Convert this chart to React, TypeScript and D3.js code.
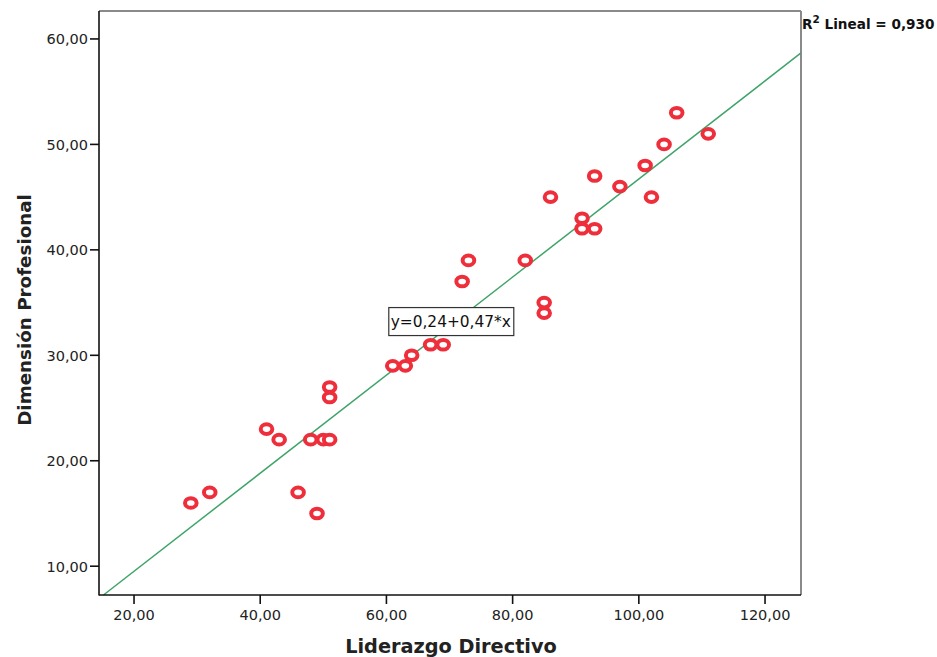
import React from 'react';
import * as d3 from 'd3';

// Liderazgo Directivo (x) vs Dimensión Profesional (y)
const liderazgo = [29, 32, 41, 43, 46, 48, 49, 50, 51, 51, 51, 61, 63, 64, 67, 69, 72, 73, 82, 85, 85, 86, 91, 91, 93, 93, 97, 101, 102, 104, 106, 111];
const dimension = [16, 17, 23, 22, 17, 22, 15, 22, 22, 27, 26, 29, 29, 30, 31, 31, 37, 39, 39, 35, 34, 45, 43, 42, 42, 47, 46, 48, 45, 50, 53, 51];

const xTicks = [20, 40, 60, 80, 100, 120];
const yTicks = [10, 20, 30, 40, 50, 60];

// fit line as drawn (label shows rounded coefficients)
const fit = { intercept: 0.22, slope: 0.465 };
const eqLabel = 'y=0,24+0,47*x';
const eqAt = [70.2, 33.2];
const r2Label = '0,930';

const fmt = (v: number) => v.toFixed(2).replace('.', ',');

export default function App() {
  const W = 937, H = 657;
  const m = { l: 99, r: 136, t: 11, b: 62 };

  const x = d3.scaleLinear().domain([14.45, 125.7]).range([m.l, W - m.r]);
  const y = d3.scaleLinear().domain([7.27, 62.65]).range([H - m.b, m.t]);

  const [x0, x1] = x.domain();
  const [y0] = y.domain();
  // start line where it enters the bottom of the frame
  const xs = Math.max(x0, (y0 - fit.intercept) / fit.slope);
  const line = d3.line<number>().x(d => x(d)).y(d => y(fit.intercept + fit.slope * d));

  const pts = liderazgo.map((v, i) => ({ x: v, y: dimension[i] }));
  const font = 'DejaVu Sans, Arial, sans-serif';

  return (
    <svg width={W} height={H} style={{ position: 'absolute', left: 0, top: 0, background: '#fff' }}>
      <rect x={0} y={0} width={W} height={H} fill="#fff" />

      {/* frame: top & right grey, left & bottom black */}
      <line x1={m.l} y1={m.t} x2={W - m.r} y2={m.t} stroke="#8a8a8a" strokeWidth={2} />
      <line x1={W - m.r} y1={m.t} x2={W - m.r} y2={H - m.b} stroke="#8a8a8a" strokeWidth={2} />

      <path d={line([xs, x1]) || ''} fill="none" stroke="#3fa46a" strokeWidth={1.5} />

      {pts.map((p, i) => (
        <ellipse key={i} cx={x(p.x)} cy={y(p.y)} rx={5.8} ry={4.8} fill="#fff" stroke="#ee2f3b" strokeWidth={4} />
      ))}

      <line x1={m.l} y1={m.t} x2={m.l} y2={H - m.b + 0.5} stroke="#111" strokeWidth={1.6} />
      <line x1={m.l} y1={H - m.b} x2={W - m.r} y2={H - m.b} stroke="#111" strokeWidth={1.6} />

      {yTicks.map(t => (
        <g key={t}>
          <line x1={m.l - 9} x2={m.l} y1={y(t)} y2={y(t)} stroke="#111" strokeWidth={1.6} />
          <text x={m.l - 11} y={y(t) + 5.5} textAnchor="end" fontFamily={font} fontSize={14.5} fill="#222">{fmt(t)}</text>
        </g>
      ))}
      {xTicks.map(t => (
        <g key={t}>
          <line x1={x(t)} x2={x(t)} y1={H - m.b} y2={H - m.b + 9} stroke="#111" strokeWidth={1.6} />
          <text x={x(t)} y={H - m.b + 25} textAnchor="middle" fontFamily={font} fontSize={14.5} fill="#222">{fmt(t)}</text>
        </g>
      ))}

      {/* equation label */}
      <g transform={`translate(${x(eqAt[0])},${y(eqAt[1])})`}>
        <rect x={-62} y={-14} width={125} height={28} fill="#fff" stroke="#333" strokeWidth={1.2} />
        <text x={0} y={5.5} textAnchor="middle" fontFamily={font} fontSize={15.4} fill="#111">{eqLabel}</text>
      </g>

      <text x={W - m.r + 1} y={29} fontFamily={font} fontSize={13.6} fontWeight="bold" fill="#111">
        R<tspan dy={-6} fontSize={10.5}>2</tspan><tspan dy={6}> Lineal = {r2Label}</tspan>
      </text>

      <text x={451} y={653} textAnchor="middle" fontFamily={font} fontSize={19.3} fontWeight="bold" fill="#222">Liderazgo Directivo</text>
      <text transform={`translate(31,310) rotate(-90)`} textAnchor="middle" fontFamily={font} fontSize={18.3} fontWeight="bold" fill="#222">Dimensión Profesional</text>
    </svg>
  );
}
